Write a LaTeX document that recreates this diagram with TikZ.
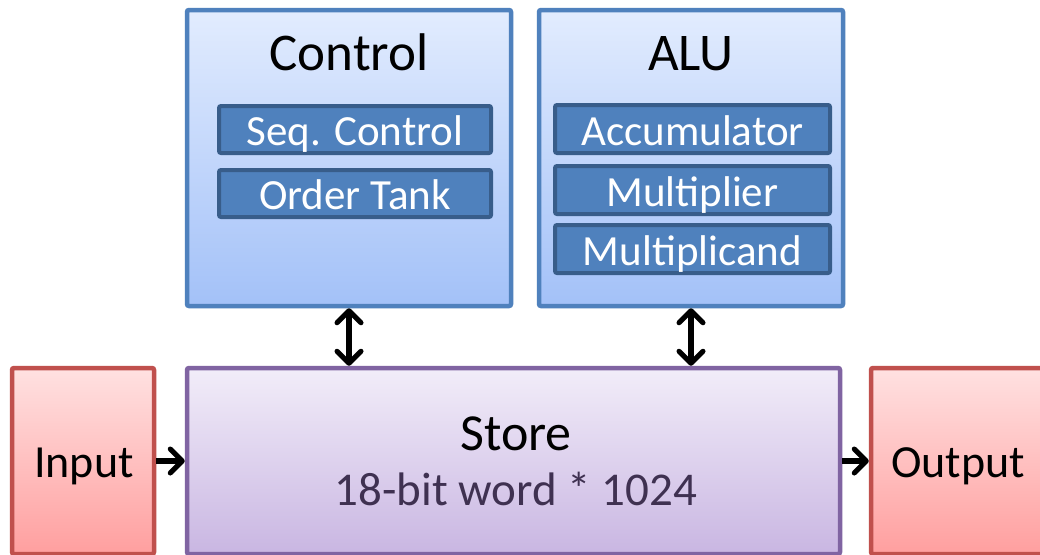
\documentclass[tikz,border=0pt]{standalone}
\usepackage{fontspec}
\setmainfont{Carlito}
\usetikzlibrary{arrows.meta,shadows}
\definecolor{bluetop}{HTML}{E2ECFE}
\definecolor{bluebot}{HTML}{A3C1F8}
\definecolor{blueline}{HTML}{4F81BD}
\definecolor{subfill}{HTML}{4F81BD}
\definecolor{subline}{HTML}{385D8A}
\definecolor{redtop}{HTML}{FFE1E1}
\definecolor{redbot}{HTML}{FF9F9F}
\definecolor{redline}{HTML}{C0504D}
\definecolor{purtop}{HTML}{F2EDF9}
\definecolor{purbot}{HTML}{C9B6E2}
\definecolor{purline}{HTML}{8064A2}
\definecolor{purtext}{HTML}{3F3151}
\tikzset{
  shad/.style={drop shadow={shadow xshift=1.5pt,shadow yshift=-1.5pt,opacity=.25}},
  bluebox/.style={shad,draw=blueline,line width=4.5pt,rounded corners=2pt,top color=bluetop,bottom color=bluebot,inner sep=0pt},
  subbox/.style={draw=subline,line width=4pt,rounded corners=2pt,fill=subfill,inner sep=0pt,text=white,
    font=\fontsize{43}{50}\selectfont,text height=32pt,text depth=0pt},
  redbox/.style={shad,draw=redline,line width=4.5pt,rounded corners=2pt,top color=redtop,bottom color=redbot,inner sep=0pt},
  purbox/.style={shad,draw=purline,line width=4.5pt,rounded corners=2pt,top color=purtop,bottom color=purbot,inner sep=0pt},
  title/.style={anchor=base,inner sep=0pt,font=\fontsize{53}{60}\selectfont},
  lbl/.style={anchor=base,inner sep=0pt,font=\fontsize{46}{54}\selectfont},
  barb/.tip={Straight Barb[length=12pt,width=24pt,line width=5pt,round]},
  conn/.style={line width=5.5pt,-{barb}},
  dconn/.style={line width=5.5pt,{barb}-{barb}}
}
\begin{document}
\begin{tikzpicture}[x=1pt,y=-1pt]
\useasboundingbox (0,0) rectangle (1040,554);
\clip (0,0) rectangle (1040,554);
\fill[white] (0,0) rectangle (1040,554);
% Control
\node[bluebox,minimum width=324pt,minimum height=296pt] (ctrl) at (349,158) {};
\node[title] (ctrlT) at (349,70) {Control};
\node[subbox,minimum width=272pt,minimum height=47pt] (seq) at (355,129.5) {Seq. Control};
\node[subbox,minimum width=272pt,minimum height=47pt] (order) at (355,193.5) {Order Tank};
% ALU
\node[bluebox,minimum width=304pt,minimum height=296pt] (alu) at (691,158) {};
\node[title] (aluT) at (691,70) {ALU};
\node[subbox,minimum width=275pt,minimum height=48pt] (acc) at (692.5,129) {Accumulator};
\node[subbox,minimum width=275pt,minimum height=48pt] (mplier) at (692.5,190) {Multiplier};
\node[subbox,minimum width=275pt,minimum height=48pt] (mcand) at (692.5,249) {Multiplicand};
% Store
\node[purbox,minimum width=653pt,minimum height=186pt] (store) at (513.5,461) {};
\node[lbl,font=\fontsize{52}{60}\selectfont] (storeT) at (516,450) {Store};
\node[lbl,font=\fontsize{47}{54}\selectfont,text=purtext] (storeS) at (516,505) {18-bit word * 1024};
% Input / Output
\node[redbox,minimum width=142pt,minimum height=186pt] (in) at (83,461) {};
\node[lbl] (inT) at (84,477) {Input};
\node[redbox,minimum width=177pt,minimum height=186pt] (out) at (959.5,461) {};
\node[lbl] (outT) at (958,477) {Output};
% connectors
\draw[conn] (in.east) -- (store.west);
\draw[conn] (store.east) -- (out.west);
\draw[dconn] (ctrl.south) -- (ctrl.south |- store.north);
\draw[dconn] (alu.south) -- (alu.south |- store.north);
\end{tikzpicture}
\end{document}
